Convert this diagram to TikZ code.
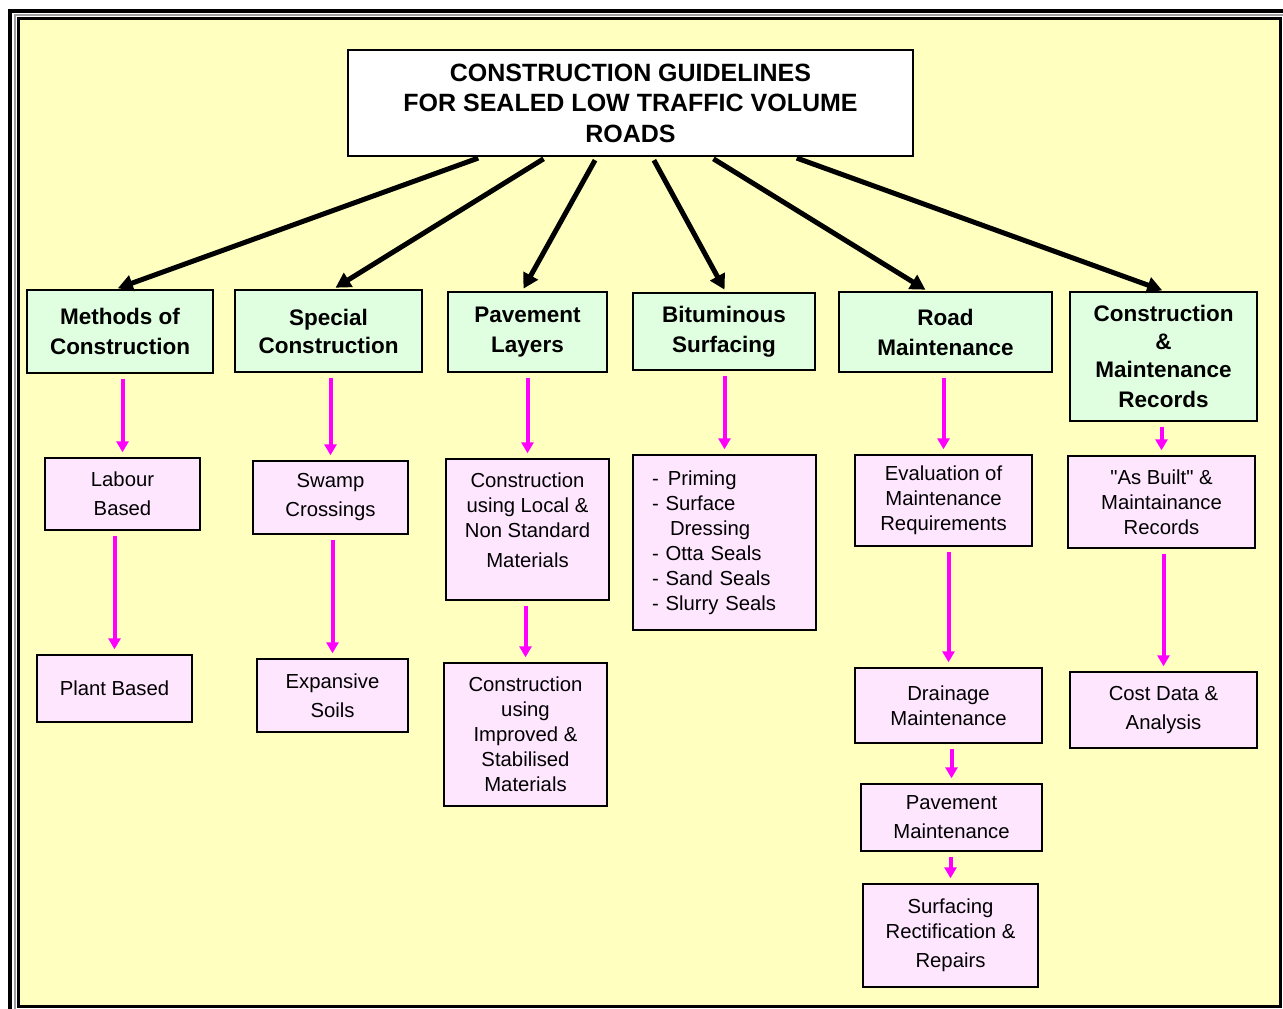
\documentclass[tikz,border=0pt]{standalone}
\usepackage{fontspec}
\setmainfont{Liberation Sans}
\newfontfamily\quotefont{Liberation Sans}
\usetikzlibrary{arrows.meta}
\definecolor{pageyellow}{RGB}{255,255,192}
\definecolor{topicgreen}{RGB}{224,255,224}
\definecolor{itempink}{RGB}{255,230,255}
\definecolor{framegrey}{RGB}{160,160,160}
\definecolor{arrowpink}{RGB}{255,0,255}
\tikzset{
        boxnode/.style={align=center,inner sep=0pt,draw=black,line width=1.4pt},
        % Title box
        box_title/.style={boxnode, fill=white, font=\fontsize{25}{30.5}\selectfont\bfseries},
        % Green topic boxes
        box_topic/.style={boxnode, fill=topicgreen, font=\fontsize{22.5}{30}\selectfont\bfseries},
        % Pink item boxes
        box_item/.style={boxnode, fill=itempink, font=\fontsize{20.3}{25}\selectfont},
        % Black arrows from the title
        arrow_main/.style={line width=5pt, -{Triangle[length=15pt,width=16pt]}, shorten <=4pt, shorten >=3pt},
        % Magenta arrows between boxes
        arrow_sub/.style={arrowpink, line width=4pt, -{Triangle[length=11pt,width=12pt]}, shorten <=5pt, shorten >=5pt}
}

\begin{document}
\begin{tikzpicture}[x=1pt, y=-1pt]
            % page and frame
            \clip (0,0) rectangle (1283,1009);
            \fill[white] (0,0) rectangle (1283,1009);
            \draw[line width=4pt] (10.3,11.2) rectangle (1300,1030);
            \draw[framegrey, line width=2pt] (14.8,15.2) rectangle (1296,1026);
            \draw[fill=pageyellow, line width=3pt] (18.3,18.4) rectangle (1280.5,1006);

            % title
            \node[box_title, minimum width=565pt, minimum height=106pt] (title) at (630.5,103)
                {CONSTRUCTION GUIDELINES\\FOR SEALED LOW TRAFFIC VOLUME\\ROADS};

            % topics
            \node[box_topic, minimum width=186pt, minimum height=83pt] (methods) at (120,331.5) {Methods of\\Construction};
            \node[box_topic, minimum width=187pt, minimum height=82pt] (special) at (328.5,331) {Special\\[-2pt]Construction};
            \node[box_topic, minimum width=159pt, minimum height=80pt] (pavement) at (527.5,332) {Pavement\\Layers};
            \node[box_topic, minimum width=182pt, minimum height=77pt] (bitum) at (724,331.5) {Bituminous\\Surfacing};
            \node[box_topic, minimum width=213pt, minimum height=80pt] (roadmaint) at (945.5,332) {Road\\Maintenance};
            \node[box_topic, minimum width=187pt, minimum height=129pt] (records) at (1163.5,356.5)
                {Construction\\[-2pt]\&\\[-2pt]Maintenance\\Records};

            % items
            \node[box_item, minimum width=155pt, minimum height=72pt] (labour) at (122.5,494) {Labour\\[4pt]Based};
            \node[box_item, minimum width=155pt, minimum height=67pt] (plant) at (114.5,688.5) {Plant Based};
            \node[box_item, minimum width=155pt, minimum height=73pt] (swamp) at (330.5,497.5) {Swamp\\[4pt]Crossings};
            \node[box_item, minimum width=151pt, minimum height=73pt] (expansive) at (332.5,695.5) {Expansive\\[4pt]Soils};
            \node[box_item, minimum width=163pt, minimum height=141pt] (local) at (527.5,529.5)
                {Construction\\using Local \&\\Non Standard\\[5pt]Materials\\[-6pt]};
            \node[box_item, minimum width=163pt, minimum height=143pt] (improved) at (525.5,734.5)
                {Construction\\using\\Improved \&\\Stabilised\\Materials};
            \node[box_item, align=left, text width=145pt, inner xsep=19pt, minimum height=175pt] (bitlist) at (724.5,542.5)
                {-\hspace{9pt}Priming\\- Surface\\\hspace*{18pt}Dressing\\- Otta Seals\\- Sand Seals\\- Slurry Seals};
            \node[box_item, minimum width=177pt, minimum height=91pt] (evaluation) at (943.5,500.5)
                {Evaluation of\\Maintenance\\Requirements};
            \node[box_item, minimum width=187pt, minimum height=75pt] (drainage) at (948.5,705.5) {Drainage\\Maintenance};
            \node[box_item, minimum width=181pt, minimum height=67pt] (pavmaint) at (951.5,817.5) {Pavement\\[4pt]Maintenance};
            \node[box_item, minimum width=175pt, minimum height=103pt] (surfacing) at (950.5,935.5)
                {Surfacing\\Rectification \&\\[4pt]Repairs};
            \node[box_item, minimum width=187pt, minimum height=92pt] (asbuilt) at (1161.5,502)
                {{\quotefont"}As Built{\quotefont"} \&\\Maintainance\\Records};
            \node[box_item, minimum width=187pt, minimum height=76pt] (cost) at (1163.5,710) {Cost Data \&\\[4pt]Analysis};

            % title to topics
            \draw[arrow_main] ([xshift=-148.5pt]title.south) -- ([xshift=-5pt]methods.north);
            \draw[arrow_main] ([xshift=-83.5pt]title.south) -- ([xshift=4.5pt]special.north);
            \draw[arrow_main] ([xshift=-33.5pt]title.south) -- ([xshift=-5.5pt]pavement.north);
            \draw[arrow_main] ([xshift=21.5pt]title.south) -- ([xshift=2pt]bitum.north);
            \draw[arrow_main] ([xshift=79.5pt]title.south) -- ([xshift=-17.5pt]roadmaint.north);
            \draw[arrow_main] ([xshift=162.5pt]title.south) -- ([xshift=1.5pt]records.north);

            % topics to items
            \foreach \from/\to in {methods/labour, labour/plant, special/swamp, swamp/expansive,
                    pavement/local, local/improved, bitum/bitlist, roadmaint/evaluation,
                    evaluation/drainage, drainage/pavmaint, pavmaint/surfacing,
                    records/asbuilt, asbuilt/cost}
                \draw[arrow_sub] (\to.north |- \from.south) -- (\to.north);
\end{tikzpicture}
\end{document}
